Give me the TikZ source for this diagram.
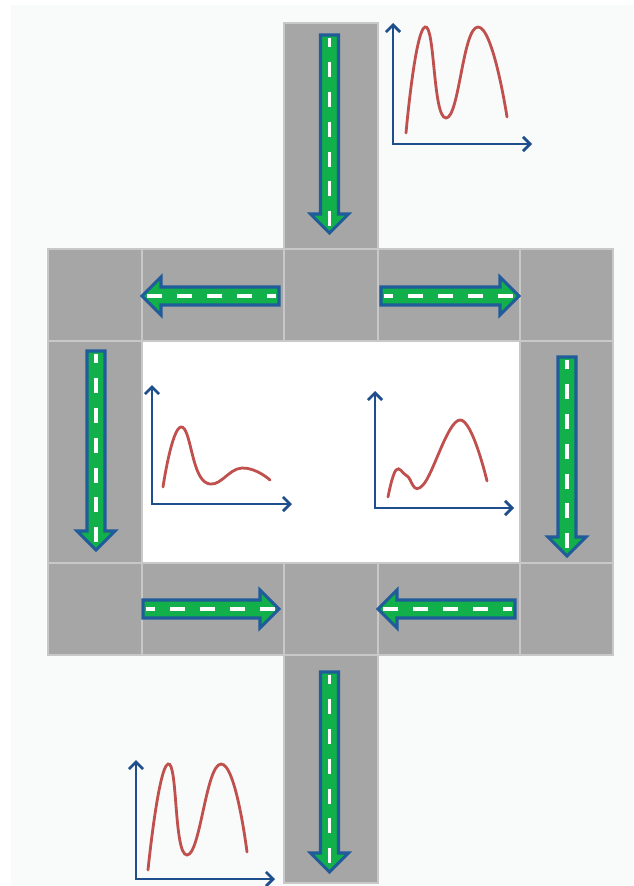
\documentclass[tikz,border=0pt]{standalone}
\usetikzlibrary{arrows.meta}

\definecolor{cellgray}{HTML}{A6A6A6}
\definecolor{cellline}{HTML}{C8C8C8}
\definecolor{flowgreen}{HTML}{12B04A}
\definecolor{flowblue}{HTML}{1F5C99}
\definecolor{axisblue}{HTML}{1F4E8C}
\definecolor{peakred}{HTML}{C0504D}
\definecolor{paper}{HTML}{F9FAFA}

\tikzset{
  cell/.style={fill=cellgray, draw=cellline, line width=2.1pt},
  axis/.style={draw=axisblue, line width=2pt, {Straight Barb[length=5pt,width=10pt]}-{Straight Barb[length=5pt,width=10pt]}},
  trace/.style={draw=peakred, line width=2pt, line cap=round},
  pics/flow/.style={code={
    \path[fill=flowgreen, draw=flowblue, line width=2.2pt, line join=miter]
      (0,-9) -- ({#1-19},-9) -- ({#1-19},-19) -- (#1,0) -- ({#1-19},19) -- ({#1-19},9) -- (0,9) -- cycle;
    \draw[white, line width=2.8pt, dash pattern=on 10.6pt off 10.6pt, dash phase=4pt] (3,0) -- ({#1-3},0);
  }}
}

\begin{document}
\begin{tikzpicture}[x=0.025cm, y=-0.025cm]
\useasboundingbox (0,0) rectangle (633,886);
\fill[paper] (11,5) rectangle (633,886);
\fill[white] (142,341) rectangle (520,563);

% road cells
\draw[cell] (284,23) rectangle (378,249);

\draw[cell] (48,249) rectangle (142,341);
\draw[cell] (142,249) rectangle (284,341);
\draw[cell] (284,249) rectangle (378,341);
\draw[cell] (378,249) rectangle (520,341);
\draw[cell] (520,249) rectangle (613,341);

\draw[cell] (48,341) rectangle (142,563);
\draw[cell] (520,341) rectangle (613,563);

\draw[cell] (48,563) rectangle (142,655);
\draw[cell] (142,563) rectangle (284,655);
\draw[cell] (284,563) rectangle (378,655);
\draw[cell] (378,563) rectangle (520,655);
\draw[cell] (520,563) rectangle (613,655);

\draw[cell] (284,655) rectangle (378,883);

% flow arrows
\pic[rotate=-90] at (329.5,35) {flow=198};
\pic[rotate=180] at (279,296) {flow=137};
\pic at (381,296) {flow=138};
\pic[rotate=-90] at (96,351) {flow=199};
\pic[rotate=-90] at (567,357) {flow=199};
\pic at (143,609) {flow=136};
\pic[rotate=180] at (515,609) {flow=137};
\pic[rotate=-90] at (329.5,672) {flow=200};

% chromatograms
\draw[axis] (393,23) |- (532,144);
\draw[trace] plot[smooth, tension=0.9] coordinates {(406,133) (425,27) (446,118) (478,27) (507,117)};

\draw[axis] (152,385) |- (292,504);
\draw[trace] plot[smooth, tension=0.8] coordinates {(163,487) (181,427) (205,482) (242,468) (270,480)};

\draw[axis] (375,391) |- (514,508);
\draw[trace] plot[smooth, tension=0.7] coordinates {(388,497) (396,470) (407,476) (423,485) (460,420) (487,481)};

\draw[axis] (136,760) |- (275,879);
\draw[trace] plot[smooth, tension=0.9] coordinates {(148,870) (168,764) (187,855) (221,764) (247,852)};
\end{tikzpicture}
\end{document}
